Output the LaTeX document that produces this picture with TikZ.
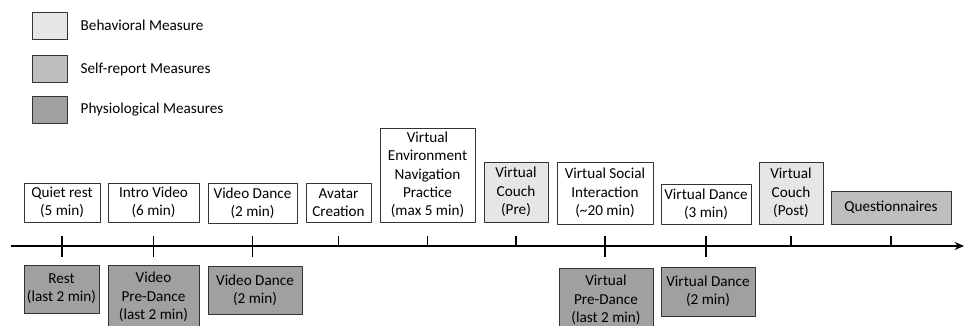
\documentclass[tikz,border=0pt]{standalone}
\usepackage{fontspec}
\setmainfont{Carlito}
\usepackage{tikz}
\usetikzlibrary{arrows.meta,positioning}
\definecolor{behavgray}{HTML}{E6E6E6}
\definecolor{selfgray}{HTML}{BEBEBE}
\definecolor{physgray}{HTML}{A0A0A0}
\tikzset{stage/.style={draw=black!80,line width=0.6pt,align=center,inner sep=1pt,font=\fontsize{11.4}{13.7}\selectfont},
  legbox/.style={draw=black!80,line width=0.6pt,minimum width=26.25pt,minimum height=20.25pt,inner sep=0pt},
  legtext/.style={inner sep=0pt,anchor=west,font=\fontsize{11.4}{13.7}\selectfont},
  tick/.style={line width=1.4pt}}

\begin{document}
\begin{tikzpicture}[x=0.75pt,y=-0.75pt,>=Stealth,line join=round]
\useasboundingbox (0,0) rectangle (964,325);
% --- legend
\node[legbox,fill=behavgray] (legb) at (49.5,25.5) {};
\node[legbox,fill=selfgray] (legs) at (49.5,69) {};
\node[legbox,fill=physgray] (legp) at (49.5,109.5) {};
\node[legtext,right=9.75pt of legb] (legbt) {Behavioral Measure};
\node[legtext,right=9.75pt of legs] (legst) {Self-report Measures};
\node[legtext,right=9.75pt of legp] (legpt) {Physiological Measures};
% --- stages above the time line
\node[stage,minimum width=57pt,minimum height=29.25pt] (quiet) at (62,202.5) {Quiet rest\\(5 min)};
\node[stage,minimum width=68.25pt,minimum height=29.25pt] (intro) at (153.5,202.5) {Intro Video\\(6 min)};
\node[stage,minimum width=66.75pt,minimum height=30pt] (vdance) at (252.5,203) {Video Dance\\(2 min)};
\node[stage,minimum width=48.75pt,minimum height=29.25pt] (avatar) at (338.5,202.5) {Avatar\\Creation};
\node[stage,minimum width=71.25pt,minimum height=70.5pt] (nav) at (427.5,175) {Virtual\\Environment\\Navigation\\Practice\\(max 5 min)};
\node[stage,fill=behavgray,minimum width=48pt,minimum height=45pt] (couchpre) at (516,192) {Virtual\\Couch\\(Pre)};
\node[stage,minimum width=72pt,minimum height=46.5pt] (social) at (605,193) {Virtual Social\\Interaction\\(\textasciitilde 20 min)};
\node[stage,minimum width=67.5pt,minimum height=30pt] (vrdance) at (706,204) {Virtual Dance\\(3 min)};
\node[stage,fill=behavgray,minimum width=48pt,minimum height=46.5pt] (couchpost) at (791,193) {Virtual\\Couch\\(Post)};
\node[stage,fill=selfgray,minimum width=90pt,minimum height=24.75pt] (quest) at (891,207.5) {Questionnaires};
% --- physiological measures below
\node[stage,fill=physgray,minimum width=56.25pt,minimum height=36pt] (rest) at (61.5,289) {Rest\\(last 2 min)};
\node[stage,fill=physgray,minimum width=68.25pt,minimum height=48pt] (vpre) at (153.5,297) {Video\\Pre-Dance\\(last 2 min)};
\node[stage,fill=physgray,minimum width=70.5pt,minimum height=36pt] (vdancep) at (255,290) {Video Dance\\(2 min)};
\node[stage,fill=physgray,minimum width=70.5pt,minimum height=48pt] (vrpre) at (606,300) {Virtual\\Pre-Dance\\(last 2 min)};
\node[stage,fill=physgray,minimum width=70.5pt,minimum height=36.75pt] (vrdancep) at (708,291.5) {Virtual Dance\\(2 min)};
% --- time line
\coordinate (axl) at (11,246);
\coordinate (axr) at (964,246);
\draw[line width=1.4pt,-{Stealth[length=7pt,width=6pt]}] (axl) -- (axr);
\foreach \n in {avatar,nav,couchpre,couchpost,quest}
  \draw[tick] (\n |- axl) -- ++(0,-10);
\foreach \n in {quiet,intro,vdance,social,vrdance}
  \draw[tick] (\n |- axl) ++(0,-10) -- ++(0,21);
\end{tikzpicture}
\end{document}
